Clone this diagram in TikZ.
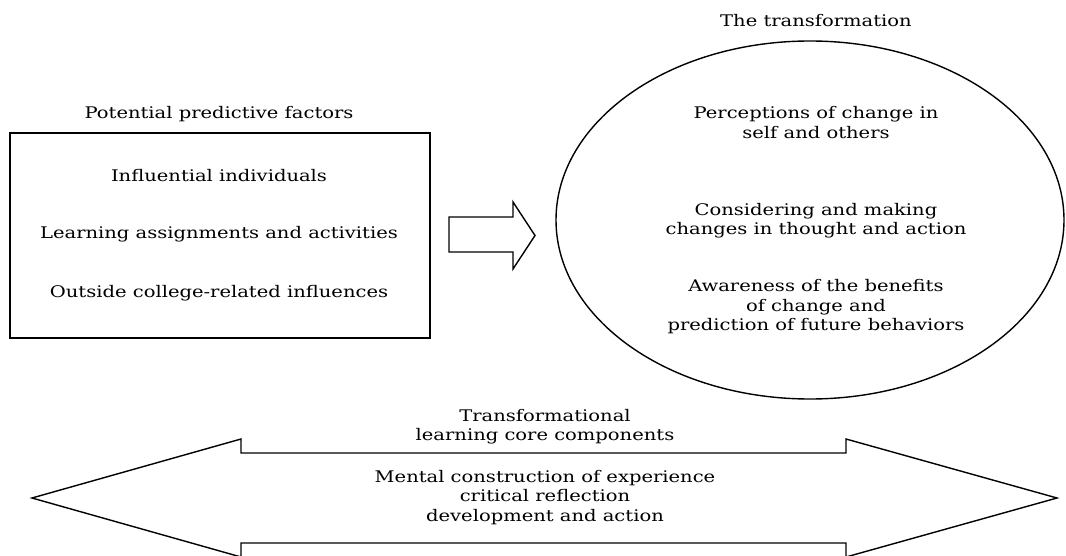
\documentclass[tikz,border=0pt]{standalone}
\usepackage{fontspec}
\setmainfont{DejaVu Serif}
\usetikzlibrary{shapes.geometric}
\begin{document}
\begin{tikzpicture}[x=1pt,y=-1pt,
  lbl/.style={align=center, inner sep=0pt, font=\fontsize{16}{19.5}\selectfont,
    xscale=1.22, transform shape},
  outline/.style={draw=black, line width=1.4pt, line join=miter}]
\useasboundingbox (0,0) rectangle (1066,556);

% left box of predictive factors
\node[lbl] (factorstitle) at (219,114) {Potential predictive factors};
\node[rectangle, outline, minimum width=420pt, minimum height=205pt, inner sep=0pt] (factors) at (220,235.5) {};
\node[lbl] (f1) at (219,176) {Influential individuals};
\node[lbl] (f2) at (219,234) {Learning assignments and activities};
\node[lbl] (f3) at (219,293) {Outside college-related influences};

% block arrow from the box to the ellipse
\draw[outline] (449,217) -- (513,217) -- (513,202) -- (535,235.5) -- (513,269) -- (513,252) -- (449,252) -- cycle;

% the transformation ellipse
\node[lbl] (transtitle) at (816,21) {The transformation};
\node[ellipse, outline, minimum width=508pt, minimum height=358pt, inner sep=0pt] (trans) at (810,220) {};
\node[lbl] (t1) at (816,122.5) {Perceptions of change in\\self and others};
\node[lbl] (t2) at (816,220.5) {Considering and making\\changes in thought and action};
\node[lbl] (t3) at (816,307) {Awareness of the benefits\\of change and\\prediction of future behaviors};

% double-headed arrow of the core components
\draw[outline] (32,498) -- (241,439) -- (241,453) -- (846,453) -- (846,439) -- (1057,498)
  -- (846,557) -- (846,543) -- (241,543) -- (241,557) -- cycle;
\node[lbl] (coretitle) at (545,426.5) {Transformational\\learning core components};
\node[lbl] (core) at (545,497.5) {Mental construction of experience\\critical reflection\\development and action};
\end{tikzpicture}
\end{document}
